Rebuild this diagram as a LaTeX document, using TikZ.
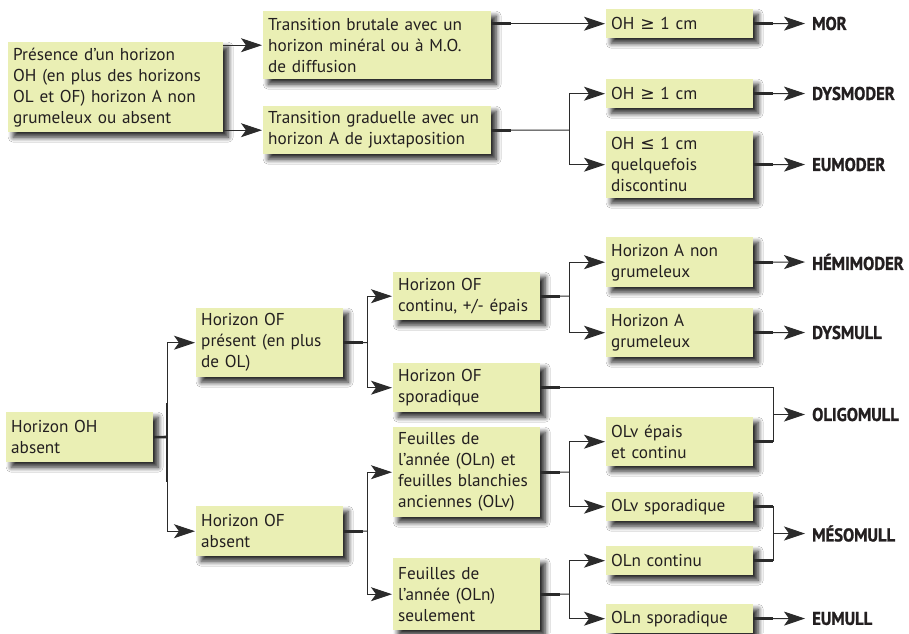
\documentclass[tikz,border=0pt]{standalone}
\usepackage{fontspec}
\setmainfont{PT Sans}
\newfontfamily\labfont[FakeStretch=0.9,FakeBold=1.2]{PT Sans Bold}
\newfontfamily\symfont{DejaVu Sans}
\usetikzlibrary{arrows.meta,shadows.blur}
\definecolor{boxfill}{HTML}{EAEFB4}
\definecolor{ink}{HTML}{231F20}
\definecolor{linec}{HTML}{2B2B2B}
\begin{document}
\begin{tikzpicture}[x=1pt,y=-1pt,
  box/.style={fill=boxfill, anchor=north west, inner xsep=5pt, inner ysep=3pt, align=left, text=ink,
    font=\fontsize{17.2}{21}\selectfont,
    blur shadow={shadow xshift=5pt,shadow yshift=-5pt,shadow blur radius=5pt,shadow blur steps=8,shadow opacity=85}},
  wide/.style={text width=218pt},
  pwide/.style={text width=205pt},
  narrow/.style={text width=137pt},
  res/.style={anchor=west, inner sep=0pt, text=ink, font=\labfont\fontsize{18.5}{22}\selectfont},
  con/.style={draw=linec, line width=1pt},
  stub/.style={draw=linec, line width=2.6pt},
  tip/.style={-{Stealth[length=21pt,width=14pt,inset=5pt]}},
  arr/.style={con, tip, shorten >=1pt},
  rarr/.style={con, tip, shorten >=7pt},
]
\useasboundingbox[fill=white] (0,0) rectangle (909,633);

% top part
\node[box,pwide,minimum height=90pt] (p1) at (8,42) {Présence d’un horizon\\OH (en plus des horizons\\OL et OF) horizon A non\\grumeleux ou absent};
\node[box,wide,minimum height=68pt] (t1) at (263,11) {Transition brutale avec un\\horizon minéral ou à M.O.\\de diffusion};
\node[box,wide,minimum height=48pt] (t2) at (263,106) {Transition graduelle avec un\\horizon A de juxtaposition};
\node[box,narrow,minimum height=29pt] (oh1) at (606,9) {OH {\symfont ≥} 1 cm};
\node[box,narrow,minimum height=29pt] (oh2) at (606,79) {OH {\symfont ≥} 1 cm};
\node[box,narrow,minimum height=67pt] (oh3) at (606,131) {OH {\symfont ≤} 1 cm\\quelquefois\\discontinu};

\node[res] (mor) at (812,23.5) {MOR};
\node[res] (dysmoder) at (812,93.5) {DYSMODER};
\node[res] (eumoder) at (812,164.5) {EUMODER};

\draw[arr] (p1.east |- t1.west) -- (t1.west);
\draw[arr] (p1.east |- t2.west) -- (t2.west);
\draw[stub] (t1.east |- oh1.west) -- ++(20,0);
\draw[arr] (t1.east |- oh1.west) -- (oh1.west);
\coordinate (j1) at (569,130);
\draw[stub] (t2.east) -- ++(20,0);
\draw[con] (t2.east) -- (j1);
\draw[arr] (j1) |- (oh2.west);
\draw[arr] (j1) |- (oh3.west);
\draw[stub] (oh1.east) -- ++(20,0);
\draw[stub] (oh2.east) -- ++(20,0);
\draw[stub] (oh3.east) -- ++(20,0);
\draw[rarr] (oh1.east) -- (mor.west);
\draw[rarr] (oh2.east) -- (dysmoder.west);
\draw[rarr] (oh3.east) -- (eumoder.west);

% bottom part
\node[box,narrow,minimum height=50pt] (hoh) at (6,412) {Horizon OH\\absent};
\node[box,narrow,minimum height=69pt] (ofp) at (196,308) {Horizon OF\\présent (en plus\\de OL)};
\node[box,narrow,minimum height=50pt] (ofa) at (196,506) {Horizon OF\\absent};
\node[box,narrow,minimum height=48pt] (ofc) at (393,272) {Horizon OF\\continu, +/- épais};
\node[box,narrow,minimum height=49pt] (ofs) at (393,363) {Horizon OF\\sporadique};
\node[box,narrow,minimum height=90pt] (f1) at (393,427) {Feuilles de\\l’année (OLn) et\\feuilles blanchies\\anciennes (OLv)};
\node[box,narrow,minimum height=72pt] (f2) at (393,558) {Feuilles de\\l’année (OLn)\\seulement};
\node[box,narrow,minimum height=50pt] (ha1) at (606,237) {Horizon A non\\grumeleux};
\node[box,narrow,minimum height=49pt] (ha2) at (606,308) {Horizon A\\grumeleux};
\node[box,narrow,minimum height=49pt] (olv1) at (606,417) {OLv épais\\et continu};
\node[box,narrow,minimum height=29pt] (olv2) at (606,492) {OLv sporadique};
\node[box,narrow,minimum height=29pt] (oln1) at (606,546) {OLn continu};
\node[box,narrow,minimum height=29pt] (oln2) at (606,604) {OLn sporadique};

\node[res] (hemimoder) at (812,262) {HÉMIMODER};
\node[res] (dysmull) at (812,332.5) {DYSMULL};
\node[res] (oligomull) at (812,414.5) {OLIGOMULL};
\node[res] (mesomull) at (812,533.5) {MÉSOMULL};
\node[res] (eumull) at (812,618.5) {EUMULL};

\coordinate (jh) at (167,437);
\draw[stub] (hoh.east) -- (jh);
\draw[stub] (167,403) -- (167,482);
\draw[arr] (jh) |- (ofp.west);
\draw[arr] (jh) |- (ofa.west);

\coordinate (jp) at (367,342.5);
\draw[stub] (ofp.east) -- ++(20,0);
\draw[con] (ofp.east) -- (jp);
\draw[arr] (jp) |- (ofc.west);
\draw[arr] (jp) |- (ofs.west);

\coordinate (ja) at (367,531);
\draw[stub] (ofa.east) -- ++(20,0);
\draw[con] (ofa.east) -- (ja);
\draw[arr] (ja) |- (f1.west);
\draw[arr] (ja) |- (f2.west);

\coordinate (jc) at (569,296);
\draw[stub] (ofc.east) -- ++(20,0);
\draw[con] (ofc.east) -- (jc);
\draw[arr] (jc) |- (ha1.west);
\draw[arr] (jc) |- (ha2.west);

\coordinate (jf1) at (569,472);
\draw[stub] (f1.east) -- ++(20,0);
\draw[con] (f1.east) -- (jf1);
\draw[arr] (jf1) |- (olv1.west);
\draw[arr] (jf1) |- (olv2.west);

\coordinate (jf2) at (569,594);
\draw[stub] (f2.east) -- ++(20,0);
\draw[con] (f2.east) -- (jf2);
\draw[arr] (jf2) |- (oln1.west);
\draw[arr] (jf2) |- (oln2.west);

\draw[stub] (ha1.east) -- ++(20,0);
\draw[stub] (ha2.east) -- ++(20,0);
\draw[rarr] (ha1.east) -- (hemimoder.west);
\draw[rarr] (ha2.east) -- (dysmull.west);

\coordinate (m1) at (773,414.5);
\draw[stub] (ofs.east) -- ++(20,0);
\draw[stub] (olv1.east) -- ++(20,0);
\draw[con] (ofs.east) -| (m1);
\draw[con] (olv1.east) -| (m1);
\draw[rarr] (m1) -- (oligomull.west);

\coordinate (m2) at (773,533.5);
\draw[stub] (olv2.east) -- ++(20,0);
\draw[stub] (oln1.east) -- ++(20,0);
\draw[con] (olv2.east) -| (m2);
\draw[con] (oln1.east) -| (m2);
\draw[rarr] (m2) -- (mesomull.west);

\draw[stub] (oln2.east) -- ++(20,0);
\draw[rarr] (oln2.east) -- (eumull.west);
\end{tikzpicture}
\end{document}
